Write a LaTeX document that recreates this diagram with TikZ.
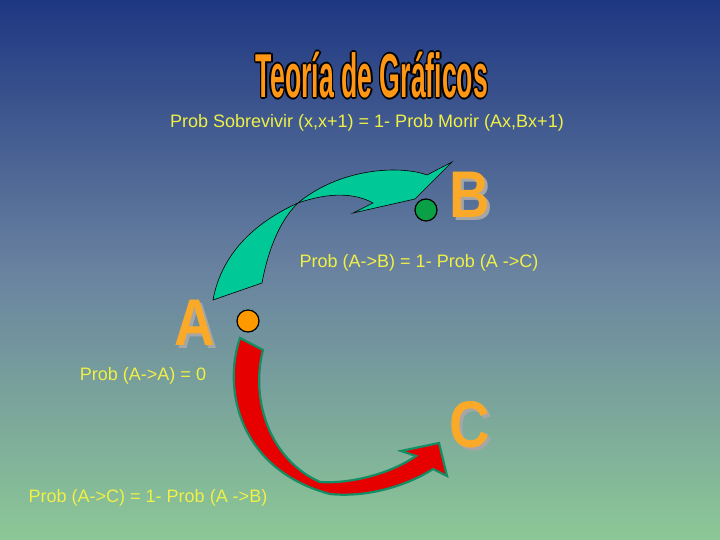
\documentclass[tikz,border=0pt]{standalone}
\usepackage{fontspec}
\setmainfont{Liberation Sans}
\begin{document}
\begin{tikzpicture}[x=1pt,y=-1pt,
  lbl/.style={text={rgb,255:red,240;green,240;blue,70}, font=\fontsize{18}{20}\selectfont, inner sep=0},
  big/.style={font=\bfseries\fontsize{66}{66}\selectfont, inner sep=0, xscale=0.85}]
\shade[top color={rgb,255:red,30;green,55;blue,130}, bottom color={rgb,255:red,140;green,200;blue,150}, middle color={rgb,255:red,105;green,130;blue,160}] (0,0) rectangle (720,540);
\useasboundingbox (0,0) rectangle (720,540);
% title
\foreach \dx/\dy in {-1.6/0,1.6/0,0/-1.6,0/1.6,-1.2/-1.2,1.2/1.2,-1.2/1.2,1.2/-1.2}
  \node[font=\bfseries\fontsize{62}{62}\selectfont, xscale=0.43, text=black, inner sep=0] at (372+\dx,75+\dy) {Teoría de Gráficos};
\node[font=\bfseries\fontsize{62}{62}\selectfont, xscale=0.43, text={rgb,255:red,255;green,150;blue,20}, inner sep=0] (title) at (372,75) {Teoría de Gráficos};
\node[lbl] (t1) at (367,123) {Prob Sobrevivir (x,x+1) = 1- Prob Morir (Ax,Bx+1)};
\node[lbl] (t2) at (419,263) {Prob (A->B) = 1- Prob (A ->C)};
\node[lbl] (t3) at (143,376) {Prob (A->A) = 0};
\node[lbl] (t4) at (148,498) {Prob (A->C) = 1- Prob (A ->B)};
% green arrow
\draw[fill={rgb,255:red,0;green,200;blue,150}, draw=black, line width=0.6]
  (213,300) .. controls (222,250) and (260,220) .. (298,203)
  .. controls (330,192) and (355,193) .. (373,203)
  -- (353,213) -- (415,199) -- (452,162) -- (427,175)
  .. controls (400,165) and (340,168) .. (298,203)
  .. controls (280,220) and (268,250) .. (262,283) -- cycle;
% red arrow
\draw[fill={rgb,255:red,230;green,0;blue,0}, draw={rgb,255:red,20;green,140;blue,100}, line width=2.2, line join=miter]
  (240,338) .. controls (222,390) and (240,470) .. (330,494)
  .. controls (370,498) and (410,484) .. (433,469)
  -- (447,476) -- (439,443) -- (401,451) -- (416,456)
  .. controls (390,474) and (350,484) .. (320,482)
  .. controls (270,460) and (250,400) .. (263,350) -- cycle;
% dots
\draw[fill={rgb,255:red,10;green,160;blue,70}, line width=1.2] (426,210) circle (11);
\draw[fill={rgb,255:red,255;green,153;blue,0}, line width=1.2] (248,321) circle (11);
% letters
\node[big, text=gray!70] at (198,326) {A};
\node[big, text={rgb,255:red,250;green,170;blue,40}] (A) at (195,323) {A};
\node[big, text=gray!70] at (473,198) {B};
\node[big, text={rgb,255:red,250;green,170;blue,40}] (B) at (470,195) {B};
\node[big, text=gray!70] at (473,428) {C};
\node[big, text={rgb,255:red,250;green,170;blue,40}] (C) at (470,425) {C};
\end{tikzpicture}
\end{document}
